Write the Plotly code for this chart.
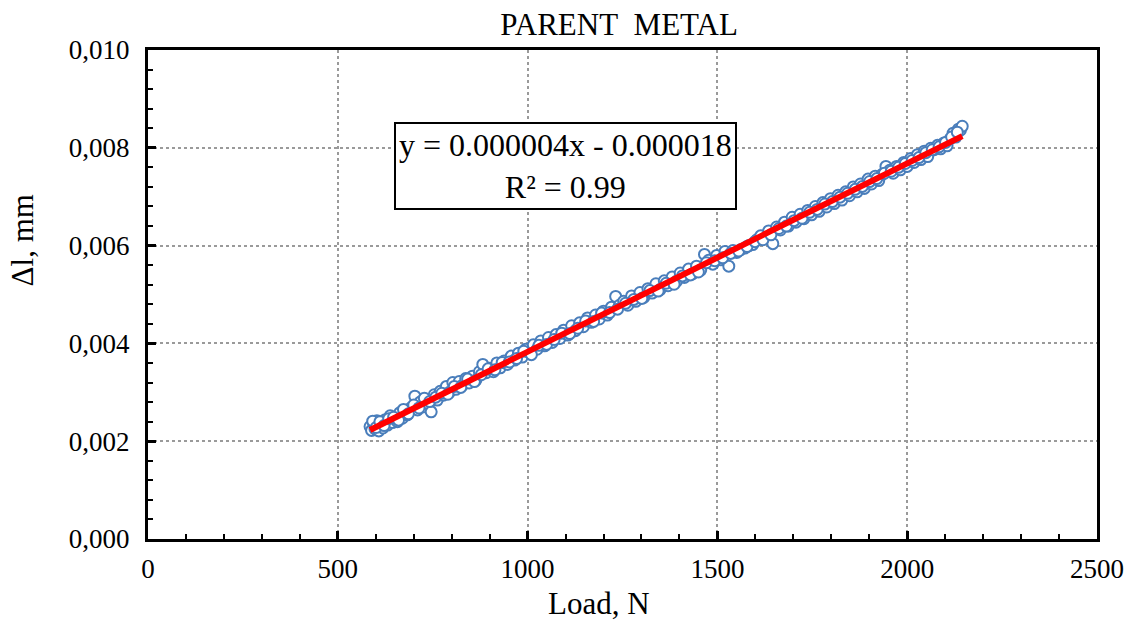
import numpy as np
import plotly.graph_objects as go

# Measured load (N) and elongation (mm) for the parent metal specimen
load_n = [
    585, 589, 594, 598, 603, 608, 613, 619, 625, 631, 638, 644, 650, 657, 663,
    670, 676, 683, 689, 696, 703, 710, 717, 724, 731, 739, 746, 754, 762, 770,
    778, 786, 794, 803, 811, 820, 828, 837, 846, 855, 864, 873, 882, 891, 900,
    910, 919, 928, 938, 947, 957, 966, 976, 986, 995, 1005, 1015, 1025, 1035,
    1045, 1055, 1065, 1075, 1085, 1095, 1106, 1116, 1126, 1137, 1147, 1158,
    1168, 1179, 1189, 1200, 1210, 1221, 1232, 1242, 1253, 1264, 1274, 1285,
    1296, 1306, 1317, 1328, 1338, 1349, 1360, 1370, 1381, 1392, 1402, 1413,
    1424, 1434, 1445, 1456, 1466, 1477, 1488, 1498, 1509, 1520, 1530, 1541,
    1551, 1562, 1572, 1583, 1593, 1604, 1614, 1625, 1635, 1646, 1656, 1666,
    1677, 1687, 1697, 1707, 1718, 1728, 1738, 1748, 1758, 1768, 1778, 1788,
    1798, 1808, 1818, 1828, 1838, 1848, 1858, 1868, 1877, 1887, 1897, 1906,
    1916, 1925, 1935, 1944, 1954, 1963, 1972, 1982, 1991, 2000, 2009, 2018,
    2027, 2036, 2045, 2054, 2062, 2071, 2080, 2088, 2097, 2105, 2113, 2121,
    2128, 2135, 2140, 2145,
    # second loading pass
    592, 601, 611, 622, 634, 647, 660, 673, 686, 700, 714, 728, 742, 758,
    774, 790, 807, 824, 842, 860, 878, 896, 914, 933, 952, 971, 990, 1010,
    1030, 1050, 1070, 1090, 1111, 1132, 1153, 1174, 1195, 1216, 1237, 1258,
    1280, 1301, 1322, 1344, 1365, 1386, 1408, 1429, 1450, 1471, 1493, 1514,
    1535, 1556, 1578, 1599, 1620, 1641, 1662, 1682, 1702, 1723, 1743, 1763,
    1783, 1803, 1823, 1843, 1863, 1882, 1901, 1920, 1940, 1958, 1977, 1995,
    2013, 2031, 2049, 2066, 2084, 2101, 2117, 2132,
]

elongation_mm = [
    0.00230, 0.00222, 0.00238, 0.00225, 0.00242, 0.00221, 0.00236, 0.00227,
    0.00244, 0.00233, 0.00252, 0.00238, 0.00246, 0.00240, 0.00258, 0.00247,
    0.00262, 0.00254, 0.00266, 0.00270, 0.00292, 0.00264, 0.00280, 0.00270,
    0.00285, 0.00276, 0.00260, 0.00295, 0.00284, 0.00302, 0.00294, 0.00312,
    0.00300, 0.00320, 0.00306, 0.00322, 0.00314, 0.00328, 0.00319, 0.00333,
    0.00325, 0.00342, 0.00357, 0.00340, 0.00349, 0.00342, 0.00360, 0.00350,
    0.00364, 0.00357, 0.00374, 0.00366, 0.00380, 0.00372, 0.00388, 0.00381,
    0.00397, 0.00388, 0.00405, 0.00395, 0.00412, 0.00402, 0.00418, 0.00410,
    0.00427, 0.00417, 0.00436, 0.00426, 0.00442, 0.00434, 0.00452, 0.00443,
    0.00458, 0.00450, 0.00466, 0.00458, 0.00474, 0.00496, 0.00478, 0.00486,
    0.00478, 0.00497, 0.00486, 0.00504, 0.00494, 0.00512, 0.00503, 0.00522,
    0.00510, 0.00528, 0.00518, 0.00536, 0.00527, 0.00544, 0.00535, 0.00552,
    0.00542, 0.00558, 0.00550, 0.00582, 0.00570, 0.00562, 0.00580, 0.00571,
    0.00588, 0.00558, 0.00590, 0.00586, 0.00592, 0.00595, 0.00600, 0.00602,
    0.00612, 0.00620, 0.00615, 0.00630, 0.00604, 0.00638, 0.00632, 0.00648,
    0.00640, 0.00658, 0.00648, 0.00664, 0.00655, 0.00672, 0.00663, 0.00680,
    0.00670, 0.00688, 0.00679, 0.00696, 0.00686, 0.00703, 0.00693, 0.00710,
    0.00702, 0.00720, 0.00710, 0.00726, 0.00717, 0.00736, 0.00726, 0.00742,
    0.00733, 0.00746, 0.00762, 0.00754, 0.00748, 0.00762, 0.00755, 0.00770,
    0.00762, 0.00778, 0.00770, 0.00786, 0.00776, 0.00793, 0.00782, 0.00799,
    0.00796, 0.00805, 0.00798, 0.00810, 0.00804, 0.00818, 0.00830, 0.00822,
    0.00838, 0.00836, 0.00844,
    # second loading pass
    0.00241, 0.00228, 0.00240, 0.00232, 0.00246, 0.00249, 0.00243, 0.00265,
    0.00256, 0.00274, 0.00268, 0.00288, 0.00281, 0.00290, 0.00298, 0.00296,
    0.00312, 0.00310, 0.00327, 0.00322, 0.00336, 0.00348, 0.00346, 0.00361,
    0.00362, 0.00369, 0.00384, 0.00377, 0.00396, 0.00398, 0.00408, 0.00421,
    0.00420, 0.00431, 0.00446, 0.00445, 0.00462, 0.00463, 0.00470, 0.00482,
    0.00490, 0.00492, 0.00508, 0.00507, 0.00523, 0.00521, 0.00538, 0.00540,
    0.00546, 0.00565, 0.00569, 0.00575, 0.00584, 0.00589, 0.00598, 0.00608,
    0.00612, 0.00622, 0.00635, 0.00640, 0.00651, 0.00656, 0.00668, 0.00674,
    0.00685, 0.00690, 0.00699, 0.00707, 0.00715, 0.00721, 0.00731, 0.00737,
    0.00748, 0.00752, 0.00760, 0.00768, 0.00774, 0.00780, 0.00790, 0.00796,
    0.00802, 0.00811, 0.00822, 0.00832,
]

x_ticks = [0, 500, 1000, 1500, 2000, 2500]
y_ticks = [0.000, 0.002, 0.004, 0.006, 0.008, 0.010]
y_tick_text = ["0,000", "0,002", "0,004", "0,006", "0,008", "0,010"]

# Linear least-squares trend line through the measurements
x_arr = np.array(load_n, dtype=float)
y_arr = np.array(elongation_mm, dtype=float)
slope, intercept = np.polyfit(x_arr, y_arr, 1)
x_fit = np.array([x_arr.min(), x_arr.max()])
y_fit = slope * x_fit + intercept

FONT = "Liberation Serif, Times New Roman, serif"

W, H = 1136, 623
ML, MR, MT, MB = 148, 36, 50, 84


def px_to_paper(px, py):
    """Pixel position on the page -> paper coordinates of the plot area."""
    return (px - ML) / (W - ML - MR), (H - MB - py) / (H - MT - MB)


fig = go.Figure()
fig.add_trace(go.Scatter(
    x=load_n, y=elongation_mm, mode="markers",
    marker=dict(symbol="circle", size=11, color="white",
                line=dict(color="#4a7ebb", width=2)),
    showlegend=False,
))
fig.add_trace(go.Scatter(
    x=x_fit, y=y_fit, mode="lines",
    line=dict(color="#ff0000", width=6),
    showlegend=False,
))

# Trend-line equation box
fig.add_annotation(
    x=1100, y=0.00762, xref="x", yref="y",
    text="y = 0.000004x - 0.000018<br>R² = 0.99",
    showarrow=False, align="center",
    font=dict(family=FONT, size=32, color="black"),
    bgcolor="white", bordercolor="black", borderwidth=2, borderpad=3,
)

# Axis titles
lx, ly = px_to_paper(600, 603)
fig.add_annotation(
    x=lx, y=ly, xref="paper", yref="paper", text="Load, N",
    showarrow=False, xanchor="center", yanchor="middle",
    font=dict(family=FONT, size=31, color="black"),
)
tx, ty = px_to_paper(22, 240)
fig.add_annotation(
    x=tx, y=ty, xref="paper", yref="paper", text="Δl, mm",
    textangle=-90, showarrow=False, xanchor="center", yanchor="middle",
    font=dict(family=FONT, size=31, color="black"),
)

axis_common = dict(
    showline=True, linecolor="black", linewidth=3, mirror=True,
    showgrid=True, gridcolor="#9a9a9a", gridwidth=2, griddash="dot",
    zeroline=False,
    ticks="inside", ticklen=8, tickwidth=3, tickcolor="black",
    tickfont=dict(family=FONT, size=27, color="black"),
)

fig.update_layout(
    width=W, height=H,
    margin=dict(l=ML, r=MR, t=MT, b=MB),
    paper_bgcolor="white", plot_bgcolor="white",
    title=dict(text="PARENT\u00a0\u00a0METAL", x=0.545, xanchor="center",
               y=0.962, yanchor="middle",
               font=dict(family=FONT, size=31, color="black")),
    xaxis=dict(
        range=[0, 2500], tickvals=x_ticks,
        minor=dict(dtick=100, ticks="inside", ticklen=5, tickwidth=2,
                   tickcolor="black", showgrid=False),
        ticklabelstandoff=4,
        **axis_common,
    ),
    yaxis=dict(
        range=[0, 0.010], tickvals=y_ticks, ticktext=y_tick_text,
        minor=dict(dtick=0.0004, ticks="inside", ticklen=5, tickwidth=2,
                   tickcolor="black", showgrid=False),
        ticklabelstandoff=10,
        **axis_common,
    ),
)

fig.write_html("out.html")
